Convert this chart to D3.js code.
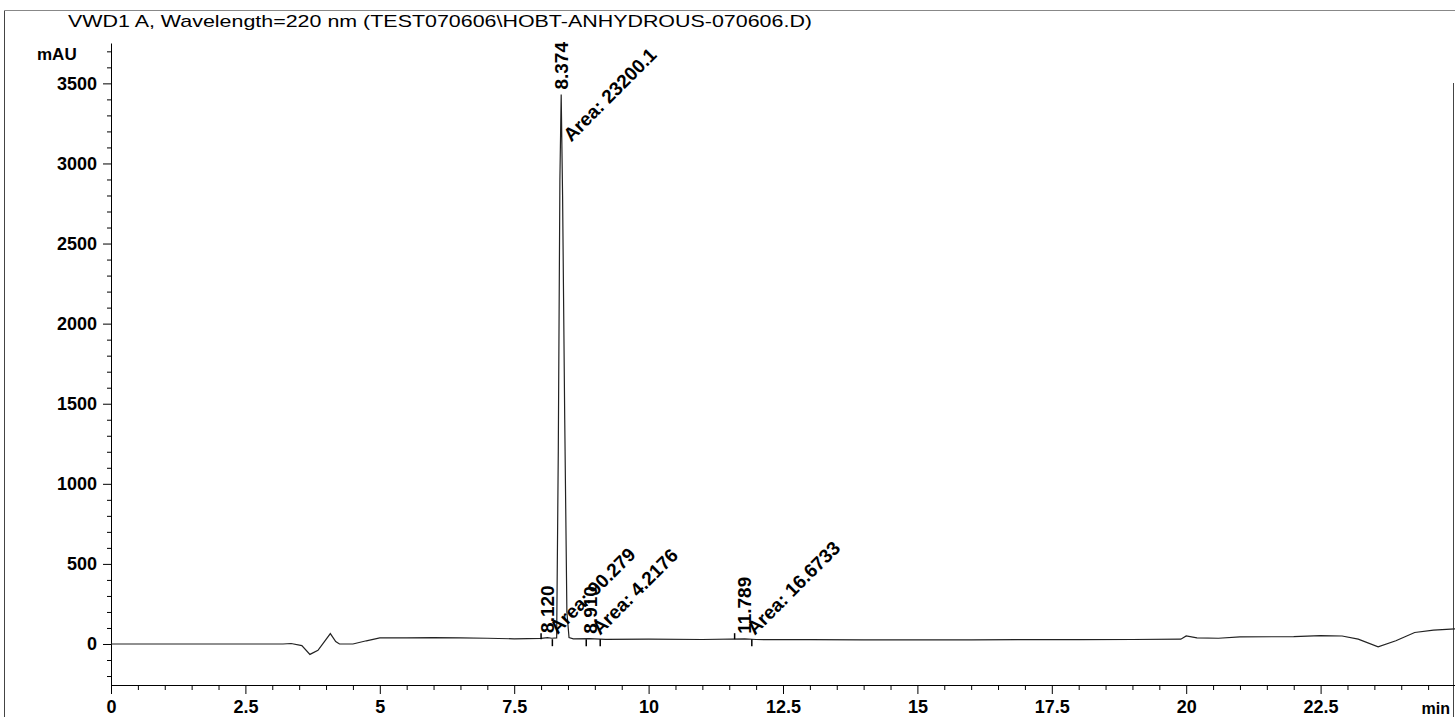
<!DOCTYPE html>
<html>
<head>
<meta charset="utf-8">
<script src="https://cdn.jsdelivr.net/npm/d3@7"></script>
<style>
body { margin: 0; background: #fff; }
svg text { font-family: "Liberation Sans", Arial, sans-serif; fill: #000; }
</style>
</head>
<body>
<div id="chart"></div>
<script>
// chromatogram trace (min, mAU)
var time = [0, 3.2, 3.35, 3.55, 3.70, 3.85, 3.98, 4.08, 4.18, 4.25, 4.5, 4.75, 5.0, 5.5, 6.0, 6.5, 7.0, 7.5, 8.0, 8.12, 8.2, 8.29, 8.32, 8.35, 8.374, 8.40, 8.44, 8.48, 8.52, 8.6, 8.9, 9.2, 10, 11, 11.79, 12, 13, 14, 15, 16, 17, 18, 19, 19.9, 20.0, 20.2, 20.6, 21, 22, 22.5, 22.9, 23.2, 23.57, 23.9, 24.25, 24.6, 25];
var signal = [0, 0, 3, -10, -65, -40, 20, 65, 15, 0, 0, 20, 38, 38, 40, 38, 36, 32, 35, 40, 36, 38, 1200, 2900, 3430, 2800, 1400, 200, 40, 32, 33, 29, 30, 28, 32, 28, 27, 26, 26, 26, 27, 27, 28, 30, 50, 38, 36, 44, 46, 52, 50, 30, -18, 20, 72, 86, 95];

var peakTimes = [8.120, 8.374, 8.910, 11.789];
var peakHeights = [38, 3430, 33, 32];
var peakLabels = ["8.120", "8.374", "8.910", "11.789"];
var areaLabels = ["Area: 90.279", "Area: 23200.1", "Area: 4.2176", "Area: 16.6733"];
var startMarks = [8.00, 11.60];
var endMarks = [8.21, 8.84, 9.10, 11.92];
var markLevel = 30;

var xTicks = [0, 2.5, 5, 7.5, 10, 12.5, 15, 17.5, 20, 22.5];
var yTicks = [0, 500, 1000, 1500, 2000, 2500, 3000, 3500];

var title = "VWD1 A, Wavelength=220 nm (TEST070606\\HOBT-ANHYDROUS-070606.D)";

var dimensions = {
    width: 1455,
    height: 717,
    margin: { top: 43, right: 0, bottom: 32, left: 111 }
};

var svg = d3.select("#chart")
    .append("svg")
    .attr("width", dimensions.width)
    .attr("height", dimensions.height);

var xScale = d3.scaleLinear()
    .domain([0, 25])
    .range([dimensions.margin.left, dimensions.width - dimensions.margin.right]);

var yScale = d3.scaleLinear()
    .domain([-256, 3752])
    .range([dimensions.height - dimensions.margin.bottom, dimensions.margin.top]);

// outer frame of the printout
var frame = svg.append("g").attr("stroke", "#444").attr("stroke-width", 1);
frame.append("line").attr("x1", 4.5).attr("x2", 4.5).attr("y1", 10.5).attr("y2", 717);
frame.append("line").attr("x1", 4.5).attr("x2", 1455).attr("y1", 10.5).attr("y2", 10.5).attr("stroke", "#888");
frame.append("line").attr("x1", 1453.5).attr("x2", 1453.5).attr("y1", 83).attr("y2", 717);

svg.append("text")
    .attr("x", 68)
    .attr("y", 27)
    .attr("font-size", 17)
    .attr("textLength", 744)
    .attr("lengthAdjust", "spacingAndGlyphs")
    .text(title);

// axes
var xBase = yScale.range()[0];
var yAxisX = xScale.range()[0];

var xMinor = d3.range(0, 25.01, 0.5).filter(d => xTicks.indexOf(d) < 0);
svg.append("g")
    .attr("transform", `translate(0,${xBase})`)
    .call(d3.axisBottom(xScale).tickValues(xMinor).tickSize(5).tickFormat(""))
    .call(g => g.select(".domain").remove());

var xAxis = svg.append("g")
    .attr("transform", `translate(0,${xBase})`)
    .call(d3.axisBottom(xScale).tickValues(xTicks).tickSize(9).tickSizeOuter(0).tickPadding(6).tickFormat(d => d));
xAxis.selectAll("text")
    .attr("font-size", 18)
    .attr("font-weight", "bold");

var yMinor = d3.range(-200, 3800, 100).filter(d => yTicks.indexOf(d) < 0);
svg.append("g")
    .attr("transform", `translate(${yAxisX},0)`)
    .call(d3.axisLeft(yScale).tickValues(yMinor).tickSize(4).tickFormat(""))
    .call(g => g.select(".domain").remove());

var yAxis = svg.append("g")
    .attr("transform", `translate(${yAxisX},0)`)
    .call(d3.axisLeft(yScale).tickValues(yTicks).tickSize(8).tickSizeOuter(0).tickPadding(6).tickFormat(d3.format("d")));
yAxis.selectAll("text")
    .attr("font-size", 18)
    .attr("font-weight", "bold");

svg.append("text")
    .attr("x", 37)
    .attr("y", 60)
    .attr("font-size", 17)
    .attr("font-weight", "bold")
    .text("mAU");

svg.append("text")
    .attr("x", 1450)
    .attr("y", 714)
    .attr("text-anchor", "end")
    .attr("font-size", 16)
    .attr("font-weight", "bold")
    .text("min");

// signal
var line = d3.line()
    .x((d, i) => xScale(time[i]))
    .y(d => yScale(d));

svg.append("path")
    .datum(signal)
    .attr("fill", "none")
    .attr("stroke", "#222")
    .attr("stroke-width", 1.2)
    .attr("d", line);

// peak start / end markers
svg.selectAll(".startmark")
    .data(startMarks)
    .enter()
    .append("line")
    .attr("x1", d => xScale(d))
    .attr("x2", d => xScale(d))
    .attr("y1", yScale(markLevel))
    .attr("y2", yScale(markLevel) - 6)
    .attr("stroke", "#000")
    .attr("stroke-width", 1.5);

svg.selectAll(".endmark")
    .data(endMarks)
    .enter()
    .append("line")
    .attr("x1", d => xScale(d))
    .attr("x2", d => xScale(d))
    .attr("y1", yScale(markLevel))
    .attr("y2", yScale(markLevel) + 7)
    .attr("stroke", "#000")
    .attr("stroke-width", 1.5);

// retention time and area labels
var mainPeak = peakHeights.indexOf(d3.max(peakHeights));

peakTimes.forEach(function(t, i) {
    var px = xScale(t);
    var py = yScale(peakHeights[i]);

    svg.append("text")
        .attr("transform", `translate(${px},${py - 5}) rotate(-90)`)
        .attr("dominant-baseline", "central")
        .attr("font-size", 19)
        .attr("font-weight", "bold")
        .text(peakLabels[i]);

    var ay = i === mainPeak ? py + 48 : py - 3;
    svg.append("text")
        .attr("transform", `translate(${px + 10},${ay}) rotate(-45)`)
        .attr("font-size", 19)
        .attr("font-weight", "bold")
        .text(areaLabels[i]);
});
</script>
</body>
</html>
